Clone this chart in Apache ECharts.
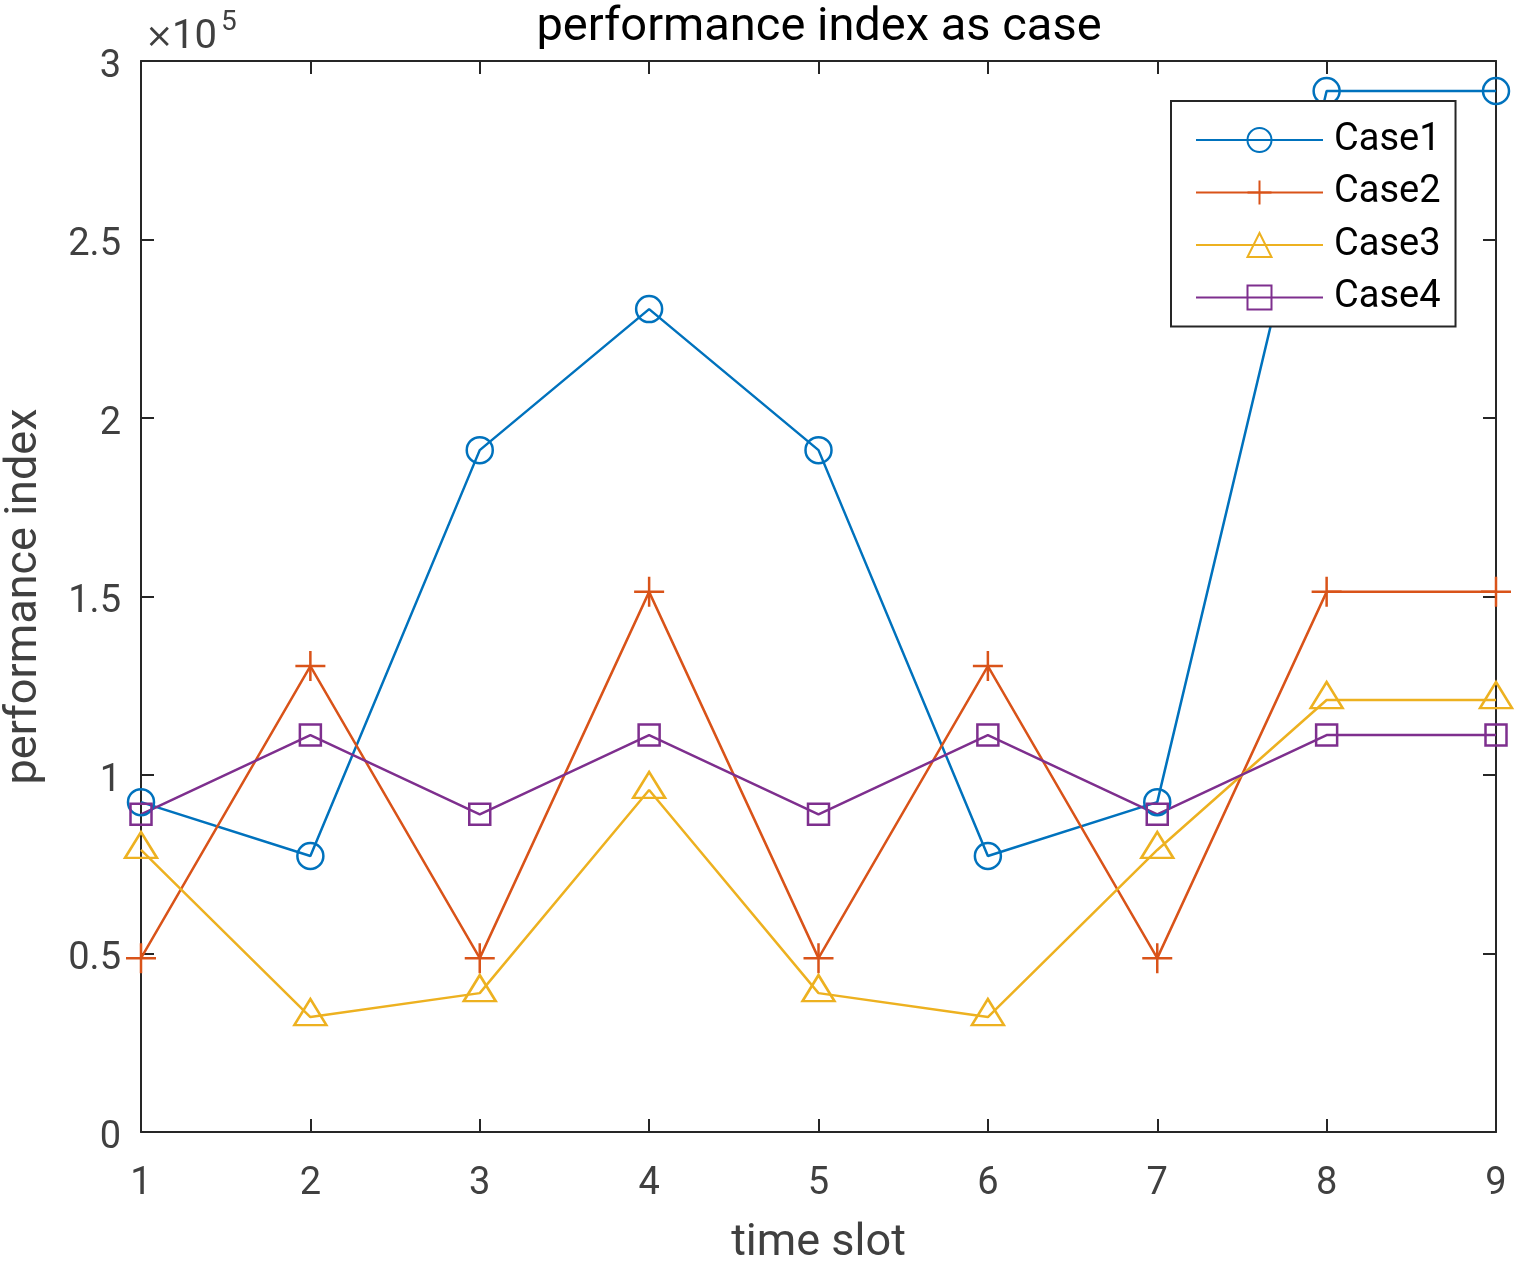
<!DOCTYPE html>
<html><head><meta charset="utf-8">
<script src="https://cdn.jsdelivr.net/npm/echarts@6/dist/echarts.min.js"></script>
<style>html,body{margin:0;padding:0;background:#fff}#c{width:1520px;height:1269px}</style>
</head><body><div id="c"></div>
<script>
var timeSlots = [1, 2, 3, 4, 5, 6, 7, 8, 9];
var case1 = [92400, 77300, 191000, 230500, 191000, 77300, 92400, 291600, 291600];
var case2 = [48700, 130500, 48700, 151300, 48700, 130500, 48700, 151300, 151300];
var case3 = [79000, 32200, 38900, 95800, 38900, 32200, 79000, 121000, 121000];
var case4 = [89000, 111200, 89000, 111200, 89000, 111200, 89000, 111200, 111200];
var yTicks = [0, 50000, 100000, 150000, 200000, 250000, 300000];

var FONT = 'Roboto';
var AX = '#262626';
var TXT = '#404040';
function pairs(arr){ return timeSlots.map(function(x,i){ return [x, arr[i]]; }); }
function mk(name, arr, color, symbol, size, offset){
  return {
    name: name, type: 'line', data: pairs(arr), symbol: symbol, symbolSize: size,
    symbolOffset: offset || [0, 0],
    lineStyle: {color: color, width: 2.5},
    itemStyle: {color: 'rgba(0,0,0,0)', borderColor: color, borderWidth: 2.5},
    emphasis: {disabled: true}, animation: false, z: 3
  };
}
var axisCommon = {
  axisLine: {show: true, onZero: false, lineStyle: {color: AX, width: 2}},
  axisTick: {show: true, inside: true, length: 13, lineStyle: {color: AX, width: 2}},
  splitLine: {show: false}
};
var chart = echarts.init(document.getElementById('c'), null, {renderer: 'canvas'});
chart.setOption({
  animation: false,
  backgroundColor: '#fff',
  title: {text: 'performance index as case', left: 814, top: 0, textAlign: 'center',
    textStyle: {fontFamily: FONT, fontSize: 47, fontWeight: 'normal', color: '#000'}},
  grid: {left: 141, right: 24, top: 61, bottom: 137, containLabel: false, outerBoundsMode: 'none'},
  xAxis: [
    Object.assign({type: 'value', min: 1, max: 9, interval: 1, position: 'bottom',
      name: 'time slot', nameLocation: 'middle', nameGap: 89,
      nameTextStyle: {fontFamily: FONT, fontSize: 45, color: TXT},
      axisLabel: {fontFamily: FONT, fontSize: 38, color: TXT, margin: 33}}, axisCommon),
    Object.assign({type: 'value', min: 1, max: 9, interval: 1, position: 'top',
      axisLabel: {show: false}}, axisCommon)
  ],
  yAxis: [
    Object.assign({type: 'value', min: yTicks[0], max: yTicks[yTicks.length-1], interval: 50000, position: 'left',
      name: 'performance index', nameLocation: 'middle', nameGap: 94,
      nameTextStyle: {fontFamily: FONT, fontSize: 45, color: TXT},
      axisLabel: {fontFamily: FONT, fontSize: 38, color: TXT, margin: 20,
        formatter: function(v){ return '{a|' + String(v/100000) + '}'; },
        rich: {a: {fontFamily: FONT, fontSize: 38, color: TXT, padding: [12, 0, 0, 0]}}}}, axisCommon),
    Object.assign({type: 'value', min: yTicks[0], max: yTicks[yTicks.length-1], interval: 50000, position: 'right',
      axisLabel: {show: false}}, axisCommon)
  ],
  legend: {
    show: true, orient: 'vertical', left: 1171, top: 101,
    padding: [20, 15, 10, 24], itemWidth: 127, itemHeight: 30, itemGap: 14.5,
    backgroundColor: '#fff', borderColor: AX, borderWidth: 2,
    textStyle: {fontFamily: FONT, fontSize: 38, color: '#000', padding: [0, 0, 0, 6], lineHeight: 30},
    data: ['Case1', 'Case2', 'Case3', 'Case4']
  },
  graphic: [
    {type: 'text', x: 145, y: 38, style: {text: '×', fontFamily: 'DejaVu Sans', fontSize: 34, fill: TXT, verticalAlign: 'middle'}},
    {type: 'text', x: 172, y: 38, style: {text: '10', fontFamily: FONT, fontSize: 40, fill: TXT, verticalAlign: 'middle'}},
    {type: 'text', x: 221, y: 23, style: {text: '5', fontFamily: FONT, fontSize: 28, fill: TXT, verticalAlign: 'middle'}}
  ],
  series: [
    mk('Case1', case1, '#0072BD', 'circle', 26),
    mk('Case2', case2, '#D95319', 'path://M10,0L10,20M0,10L20,10', 30),
    mk('Case3', case3, '#EDB120', 'triangle', [32, 26], [0, -5]),
    mk('Case4', case4, '#7E2F8E', 'rect', 21)
  ]
});
</script></body></html>
